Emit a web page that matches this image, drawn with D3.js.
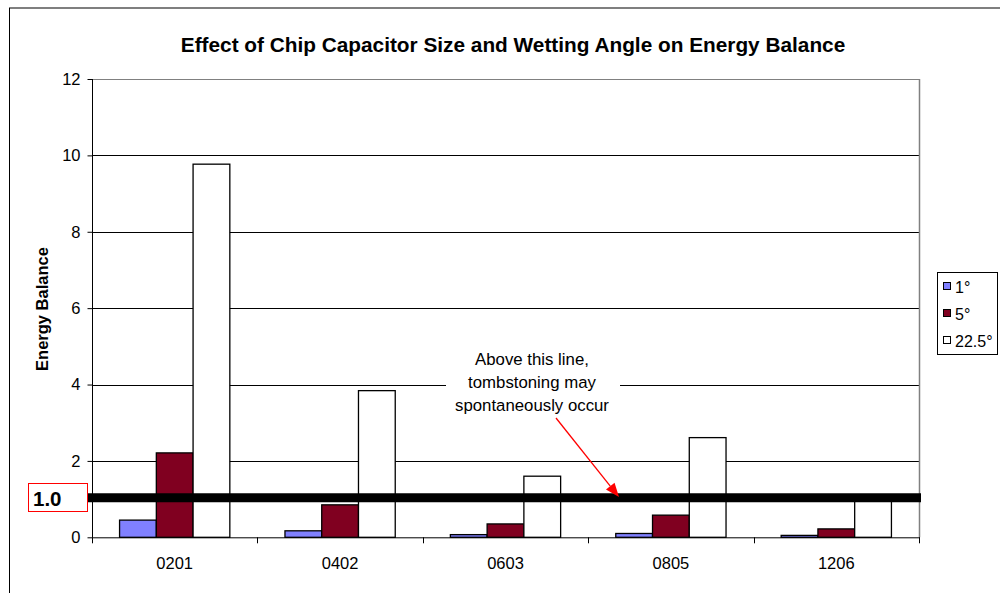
<!DOCTYPE html>
<html>
<head>
<meta charset="utf-8">
<script src="https://cdn.jsdelivr.net/npm/d3@7"></script>
<style>
  html, body { margin: 0; padding: 0; background: #fff; }
  svg { display: block; font-family: "Liberation Sans", Arial, sans-serif; }
</style>
</head>
<body>
<svg id="chart" width="1000" height="593"></svg>
<script>
// Chip sizes and energy balance per wetting angle
const categories = ["0201", "0402", "0603", "0805", "1206"];
const seriesNames = ["1°", "5°", "22.5°"];
const angle1 = [0.45, 0.17, 0.07, 0.10, 0.05];
const angle5 = [2.21, 0.85, 0.35, 0.58, 0.22];
const angle22 = [9.77, 3.84, 1.60, 2.61, 1.02];
const yTicks = [0, 2, 4, 6, 8, 10, 12];
const thresholdValue = 1.0;
const thresholdLabel = "1.0";
const titleText = "Effect of Chip Capacitor Size and Wetting Angle on Energy Balance";
const yTitle = "Energy Balance";
const noteLines = ["Above this line,", "tombstoning may", "spontaneously occur"];

const seriesValues = [angle1, angle5, angle22];
const colors = ["#8080ff", "#800020", "#ffffff"];
const FONT = "Liberation Sans, Arial, sans-serif";

const svg = d3.select("#chart");
const plot = { left: 92, right: 919, top: 79, bottom: 537.3 };

// Outer chart frame
svg.append("rect")
  .attr("x", 9.5).attr("y", 8)
  .attr("width", 1000).attr("height", 600)
  .attr("fill", "#fff").attr("stroke", "#000").attr("stroke-width", 1);

// Title
svg.append("text")
  .attr("x", 513).attr("y", 52)
  .attr("text-anchor", "middle")
  .attr("font-size", 20.8).attr("font-weight", "bold")
  .text(titleText);

const x0 = d3.scaleBand().domain(categories).range([plot.left, plot.right]).paddingInner(0).paddingOuter(0);
const x1 = d3.scaleBand().domain(seriesNames).range([0, x0.bandwidth()]).paddingInner(0).paddingOuter(0.75);
const y = d3.scaleLinear().domain([0, 12]).range([plot.bottom, plot.top]);

// Horizontal gridlines
svg.append("g").selectAll("line")
  .data(yTicks.filter(t => t > 0))
  .join("line")
  .attr("x1", plot.left).attr("x2", plot.right)
  .attr("y1", d => Math.round(y(d)) + 0.5).attr("y2", d => Math.round(y(d)) + 0.5)
  .attr("stroke", d => d === 12 ? "#808080" : "#000").attr("stroke-width", 1);

// Plot area right border
svg.append("line")
  .attr("x1", plot.right + 0.5).attr("x2", plot.right + 0.5)
  .attr("y1", plot.top).attr("y2", plot.bottom)
  .attr("stroke", "#808080").attr("stroke-width", 1.5);

// Bars
const groups = svg.append("g").selectAll("g")
  .data(categories)
  .join("g")
  .attr("transform", d => `translate(${x0(d)},0)`);

groups.selectAll("rect")
  .data((c, i) => seriesNames.map((s, k) => ({ s, k, v: seriesValues[k][i] })))
  .join("rect")
  .attr("x", d => x1(d.s))
  .attr("width", x1.bandwidth())
  .attr("y", d => y(d.v))
  .attr("height", d => y(0) - y(d.v))
  .attr("fill", d => colors[d.k])
  .attr("stroke", "#000").attr("stroke-width", 1.3);

// Y axis
const yAxis = d3.axisLeft(y).tickValues(yTicks).tickSize(5).tickPadding(7).tickFormat(d3.format("d"));
const gy = svg.append("g").attr("transform", `translate(${plot.left + 0.5},0)`).call(yAxis);
gy.select(".domain").attr("stroke", "#000").attr("d", `M0,${plot.top}V${plot.bottom}`);
gy.selectAll(".tick line").attr("stroke", "#000");
gy.selectAll(".tick text").attr("font-size", 16.5).attr("font-family", FONT).attr("fill", "#000");

// X axis: category labels with tick marks on band boundaries
const xAxis = d3.axisBottom(x0).tickSize(0).tickPadding(20);
const gx = svg.append("g").attr("transform", `translate(0,${plot.bottom})`).call(xAxis);
gx.select(".domain").attr("stroke", "#000").attr("d", `M${plot.left},0.5H${plot.right + 1}`);
gx.selectAll(".tick text").attr("font-size", 16.5).attr("font-family", FONT).attr("fill", "#000");
const bounds = categories.map(c => x0(c)).concat([plot.right]);
gx.append("g").selectAll("line")
  .data(bounds)
  .join("line")
  .attr("x1", d => Math.round(d) + 0.5).attr("x2", d => Math.round(d) + 0.5)
  .attr("y1", 0).attr("y2", 6)
  .attr("stroke", "#000");

// Y axis title
svg.append("text")
  .attr("transform", `translate(48,309) rotate(-90)`)
  .attr("text-anchor", "middle")
  .attr("font-size", 16.5).attr("font-weight", "bold")
  .text(yTitle);

// Note box over the gridline
const noteCx = 532;
svg.append("rect")
  .attr("x", 446).attr("y", 345)
  .attr("width", 174).attr("height", 72)
  .attr("fill", "#fff");
svg.append("g").selectAll("text")
  .data(noteLines)
  .join("text")
  .attr("x", noteCx)
  .attr("y", (d, i) => 365 + i * 23)
  .attr("text-anchor", "middle")
  .attr("font-size", 16.8)
  .text(d => d);

// Threshold line
svg.append("line")
  .attr("x1", 88).attr("x2", 921)
  .attr("y1", y(thresholdValue) - 1.3).attr("y2", y(thresholdValue) - 1.3)
  .attr("stroke", "#000").attr("stroke-width", 9);

// Threshold label box
svg.append("rect")
  .attr("x", 28.5).attr("y", 483.5)
  .attr("width", 59).attr("height", 28)
  .attr("fill", "#fff").attr("stroke", "#ff0000").attr("stroke-width", 1);
svg.append("text")
  .attr("x", 33).attr("y", 505.5)
  .attr("font-size", 20.5).attr("font-weight", "bold")
  .text(thresholdLabel);

// Arrow from note to threshold line
const ax1 = 556, ay1 = 418, ax2 = 619, ay2 = 497;
const ang = Math.atan2(ay2 - ay1, ax2 - ax1);
const headLen = 14, headW = 5.5;
const bx = ax2 - headLen * Math.cos(ang), by = ay2 - headLen * Math.sin(ang);
svg.append("line")
  .attr("x1", ax1).attr("y1", ay1).attr("x2", bx).attr("y2", by)
  .attr("stroke", "#ff0000").attr("stroke-width", 1.3);
svg.append("path")
  .attr("d", d3.line()([
    [ax2, ay2],
    [bx + headW * Math.sin(ang), by - headW * Math.cos(ang)],
    [bx - headW * Math.sin(ang), by + headW * Math.cos(ang)]
  ]) + "Z")
  .attr("fill", "#ff0000");

// Legend
const lg = svg.append("g");
lg.append("rect")
  .attr("x", 937.5).attr("y", 272.5)
  .attr("width", 60).attr("height", 82)
  .attr("fill", "#fff").attr("stroke", "#000").attr("stroke-width", 1);
const items = lg.selectAll("g.item")
  .data(seriesNames)
  .join("g")
  .attr("class", "item")
  .attr("transform", (d, i) => `translate(0,${i * 27})`);
items.append("rect")
  .attr("x", 943.5).attr("y", 282.5)
  .attr("width", 7).attr("height", 7)
  .attr("fill", (d, i) => colors[i]).attr("stroke", "#000").attr("stroke-width", 1);
items.append("text")
  .attr("x", 955).attr("y", 293)
  .attr("font-size", 16)
  .text(d => d);
</script>
</body>
</html>
